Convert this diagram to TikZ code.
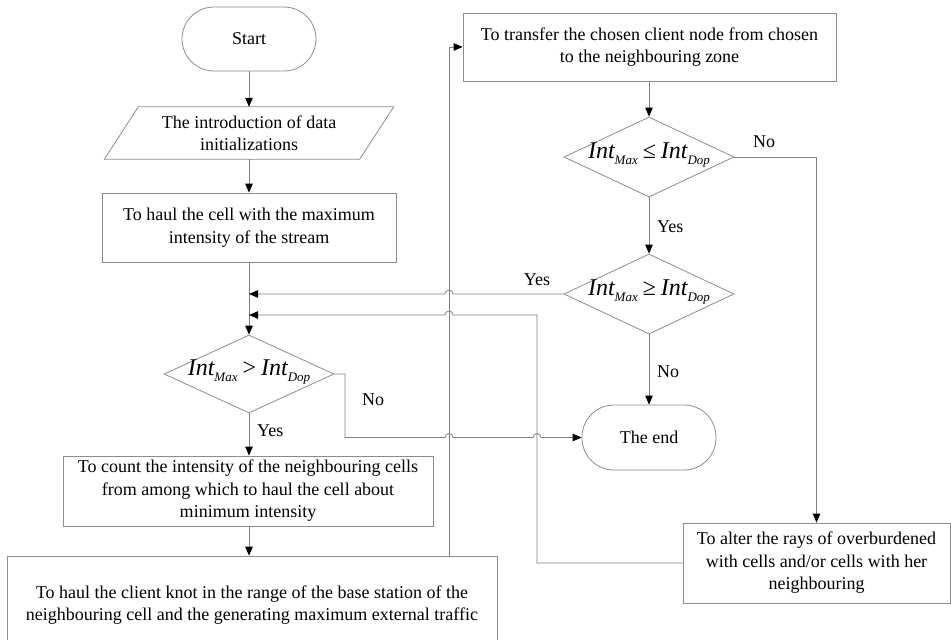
\documentclass[tikz,border=0pt]{standalone}
\usepackage{fontspec}
\setmainfont{Liberation Serif}
\usetikzlibrary{shapes.geometric,arrows.meta,calc}
\definecolor{lncol}{HTML}{7F7F7F}
\definecolor{bdcol}{HTML}{8C8C8C}
\newcommand{\myInt}[1]{{\fontsize{24}{24}\selectfont\itshape Int}\raisebox{-5.5pt}{\fontsize{13}{13}\selectfont\itshape #1}}
\newcommand{\mycond}[1]{\myInt{Max}\hspace{5pt}{\fontsize{24}{24}\selectfont #1}\hspace{5pt}\myInt{Dop}}
\tikzset{
  box/.style={draw=bdcol, line width=0.8pt, rectangle, inner sep=0pt, align=center},
  term/.style={box, rounded corners=32pt},
  diam/.style={draw=bdcol, line width=0.8pt, diamond, inner sep=0pt},
  conn/.style={draw=lncol, line width=0.8pt},
  arr/.style={conn, -{Triangle[length=9pt,width=7.5pt,color=black]}},
  lbl/.style={inner sep=0pt}
}
\begin{document}
\begin{tikzpicture}[x=1pt,y=-1pt,font=\fontsize{18}{22.5}\selectfont]
\useasboundingbox (0,0) rectangle (951,640);
\clip (0,0) rectangle (951,640);
% nodes
\node[term, minimum width=134pt, minimum height=64pt] (start) at (249,39) {Start};
\node[inner sep=0pt, minimum width=255pt, minimum height=52pt, align=center] (init) at (249,133) {The introduction of data\\initializations};
\draw[draw=bdcol, line width=0.8pt] ($(init.north west)+(17,0)$) -- ($(init.north east)+(17,0)$) -- ($(init.south east)+(-17,0)$) -- ($(init.south west)+(-17,0)$) -- cycle;
\node[box, minimum width=294pt, minimum height=69pt] (box1) at (249,227.5) {To haul the cell with the maximum\\intensity of the stream};
\node[diam, minimum width=170pt, minimum height=78pt] (d1) at (249,374) {};
\node[lbl] (d1t) at (249,372) {\mycond{>}};
\node[box, minimum width=370pt, minimum height=70pt] (count) at (248,491) {To count the intensity of the neighbouring cells\\from among which to haul the cell about\\minimum intensity};
\node[box, minimum width=490pt, minimum height=98pt] (haul2) at (252,605) {To haul the client knot in the range of the base station of the\\neighbouring cell and the generating maximum external traffic};
\node[box, minimum width=373pt, minimum height=68pt] (top) at (649.5,47) {To transfer the chosen client node from chosen\\to the neighbouring zone};
\node[diam, minimum width=170pt, minimum height=80pt] (d2) at (649,157) {};
\node[lbl] (d2t) at (649,155) {\mycond{≤}};
\node[diam, minimum width=170pt, minimum height=80pt] (d3) at (649,294) {};
\node[lbl] (d3t) at (649,292) {\mycond{≥}};
\node[term, minimum width=134pt, minimum height=65pt] (end) at (649,437.5) {The end};
\node[box, minimum width=267pt, minimum height=80pt] (right) at (816.5,563) {To alter the rays of overburdened\\with cells and/or cells with her\\neighbouring};
% helper coordinates
\coordinate (lx) at (449,0);
\coordinate (lx2) at (537,0);
\coordinate (nx) at (345,0);
\coordinate (j1) at (box1.south |- d3.west);
\coordinate (j2) at (249,315);
% connectors
\draw[arr] (start.south) -- (start.south |- init.north);
\draw[arr] (init.south) -- (init.south |- box1.north);
\draw[arr] (box1.south) -- (d1.north);
\draw[arr] (d1.south) -- (d1.south |- count.north);
\draw[arr] (d1.south |- count.south) -- (d1.south |- haul2.north);
\draw[arr] (lx |- haul2.north) -- (lx |- top.west) -- (top.west);
\draw[arr] (top.south -| d2.north) -- (d2.north);
\draw[arr] (d2.east) -- (right.north |- d2.east) -- (right.north);
\draw[arr] (d2.south) -- (d3.north);
\draw[arr] (d3.west) -- ($(lx |- d3.west)+(4,0)$) arc[start angle=0,end angle=-180,radius=4] -- (j1);
\draw[arr] (d3.south) -- (end.north);
\draw[arr] (right.west) -- (lx2 |- right.west) -- (lx2 |- j2) -- ($(lx |- j2)+(4,0)$) arc[start angle=0,end angle=-180,radius=4] -- (j2);
\draw[arr] (d1.east) -- (nx |- d1.east) -- (nx |- end.west) -- ($(lx |- end.west)+(-4,0)$) arc[start angle=180,end angle=360,radius=4] -- ($(lx2 |- end.west)+(-4,0)$) arc[start angle=180,end angle=360,radius=4] -- (end.west);
% labels
\node[lbl, anchor=west] (y1) at (257,431) {Yes};
\node[lbl] (n1) at (373,400) {No};
\node[lbl] (y3) at (537,280) {Yes};
\node[lbl] (n2) at (764,142) {No};
\node[lbl, anchor=west] (y2) at (657,227) {Yes};
\node[lbl, anchor=west] (n3) at (657,372) {No};
\end{tikzpicture}
\end{document}
